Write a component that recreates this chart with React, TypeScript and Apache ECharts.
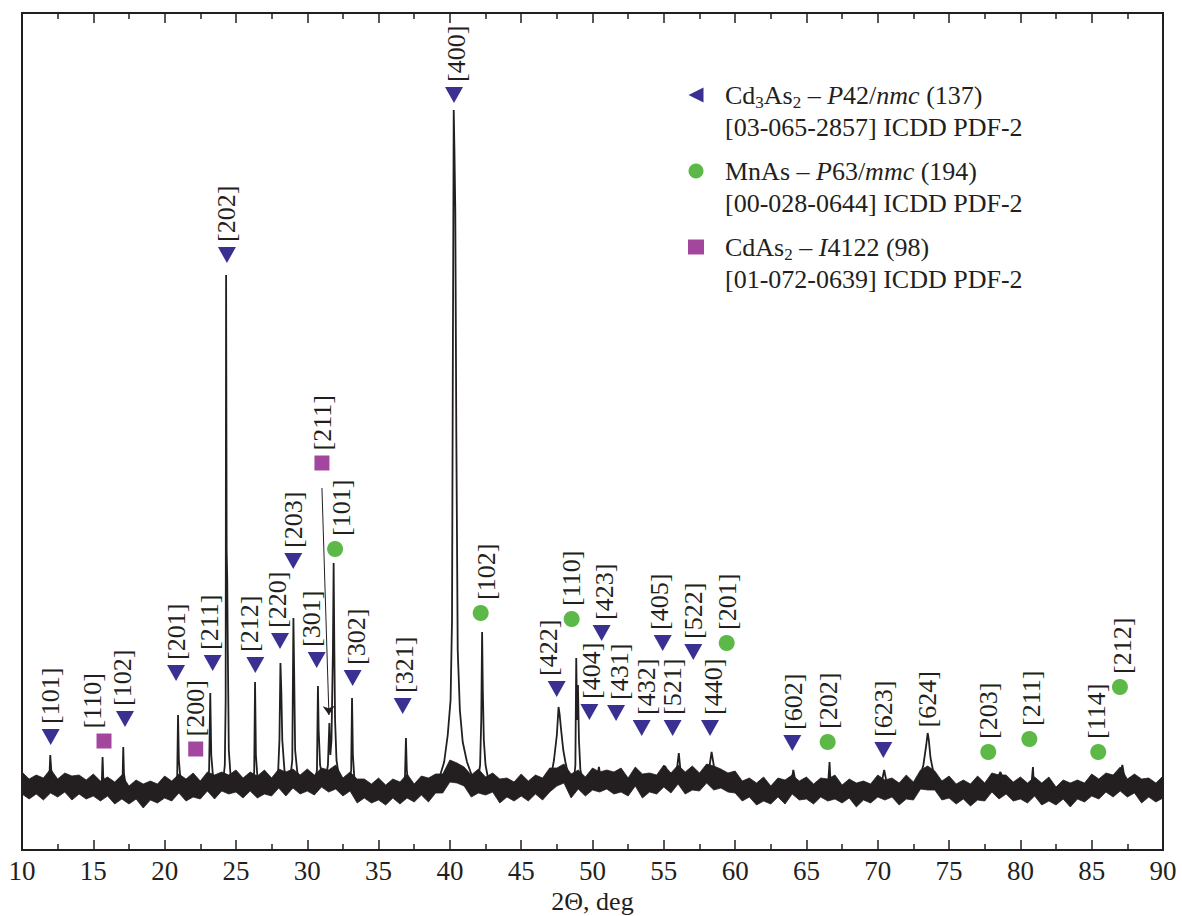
import React, { useEffect, useRef } from 'react';
import * as echarts from 'echarts';

const FONT = 'Liberation Serif';
const INK = '#231f20';
const BLUE = '#3a3092';
const GREEN = '#5cb947';
const MAGENTA = '#a3469d';

// x axis (2Θ, deg)
const xMin = 10;
const xMax = 90;
const xStep = 5;
// intensity axis (arbitrary units)
const yMin = 0;
const yMax = 837;

// noise band of the measured pattern (upper / lower excursions), sampled every 0.5° from 10° to 90°
const bandStart = 10;
const bandStep = 0.5;
const bandTop = [
  78, 71, 75, 72, 81, 71, 77, 74, 75, 70,
  76, 69, 73, 68, 75, 64, 70, 66, 69, 66,
  74, 69, 76, 71, 77, 69, 78, 75, 78, 75,
  80, 72, 78, 74, 80, 72, 81, 78, 81, 75,
  81, 75, 82, 80, 85, 72, 78, 71, 71, 66,
  72, 65, 71, 68, 76, 66, 74, 72, 76, 76,
  90, 87, 83, 75, 81, 73, 77, 71, 72, 68,
  76, 69, 75, 72, 82, 82, 86, 76, 80, 73,
  82, 78, 80, 78, 82, 72, 83, 76, 77, 75,
  85, 77, 85, 78, 84, 77, 86, 84, 81, 77,
  79, 69, 72, 67, 73, 64, 72, 70, 75, 69,
  73, 66, 72, 71, 75, 65, 71, 67, 69, 66,
  75, 70, 72, 67, 75, 68, 80, 84, 79, 69,
  74, 66, 70, 66, 74, 67, 77, 75, 75, 68,
  73, 67, 73, 67, 73, 63, 70, 67, 70, 67,
  76, 71, 77, 75, 83, 71, 76, 71, 72, 67,
  74,
];
const bandBottom = [
  56, 51, 56, 50, 57, 53, 58, 50, 56, 51,
  54, 49, 54, 46, 51, 46, 51, 42, 50, 47,
  52, 49, 57, 49, 53, 51, 59, 51, 59, 56,
  58, 52, 59, 52, 56, 54, 62, 54, 62, 56,
  59, 55, 63, 58, 61, 54, 59, 47, 52, 47,
  50, 45, 52, 46, 52, 48, 55, 48, 57, 57,
  68, 67, 64, 53, 57, 55, 58, 47, 53, 49,
  54, 49, 56, 50, 58, 64, 67, 52, 61, 54,
  60, 58, 61, 56, 58, 54, 64, 52, 58, 56,
  63, 57, 66, 56, 60, 59, 67, 60, 62, 58,
  57, 49, 53, 45, 49, 46, 53, 46, 56, 50,
  51, 46, 53, 49, 51, 47, 52, 43, 50, 47,
  53, 50, 53, 45, 51, 50, 61, 60, 60, 50,
  52, 46, 51, 44, 50, 49, 58, 51, 56, 49,
  51, 47, 54, 45, 49, 45, 51, 43, 51, 48,
  54, 51, 58, 53, 59, 53, 57, 47, 53, 48,
  52,
];

// measured trace through the reflections [2θ, intensity]
const patternTrace = [
  [10.0, 64], [11.5, 64],
  [11.8, 64], [11.92, 72], [11.98, 95], [12.05, 80], [12.15, 72], [12.3, 66],
  [13.5, 65], [15.0, 62],
  [15.5, 62], [15.6, 70], [15.65, 93], [15.7, 72], [15.8, 64],
  [16.95, 60], [17.05, 70], [17.1, 103], [17.15, 76], [17.3, 62],
  [18.5, 57], [20.0, 60],
  [20.75, 62], [20.88, 72], [20.94, 135], [21.0, 90], [21.1, 72], [21.3, 64],
  [22.5, 63],
  [23.0, 65], [23.12, 80], [23.2, 157], [23.27, 95], [23.4, 72], [23.55, 66],
  [24.1, 68], [24.22, 85], [24.28, 150], [24.31, 575], [24.35, 300], [24.39, 270], [24.43, 200], [24.5, 100], [24.62, 75], [24.8, 68],
  [25.5, 65],
  [26.15, 66], [26.28, 78], [26.34, 168], [26.4, 95], [26.5, 74], [26.7, 66],
  [27.5, 66],
  [27.8, 66], [27.95, 75], [28.05, 110], [28.12, 187], [28.18, 160], [28.25, 110], [28.4, 80], [28.6, 70],
  [28.8, 70], [28.95, 90], [29.03, 232], [29.08, 180], [29.15, 100], [29.3, 78], [29.5, 70],
  [30.0, 67],
  [30.55, 68], [30.68, 80], [30.75, 164], [30.8, 120], [30.9, 85], [31.05, 74],
  [31.3, 72], [31.45, 85], [31.55, 127], [31.62, 95], [31.7, 110], [31.8, 200], [31.85, 287], [31.9, 200], [31.95, 130], [32.05, 90], [32.2, 75],
  [32.6, 66],
  [32.95, 66], [33.08, 80], [33.14, 152], [33.2, 95], [33.3, 72], [33.5, 64],
  [35.0, 58],
  [36.7, 60], [36.85, 72], [36.92, 112], [36.98, 80], [37.1, 64],
  [38.0, 61], [38.9, 66],
  [39.3, 74], [39.6, 88], [39.85, 115], [40.05, 150], [40.15, 230], [40.2, 450], [40.27, 740], [40.32, 700], [40.38, 640], [40.45, 420], [40.55, 200], [40.7, 140], [40.9, 108], [41.2, 88], [41.6, 72],
  [41.95, 68], [42.12, 85], [42.2, 130], [42.26, 218], [42.31, 160], [42.38, 110], [42.5, 85], [42.7, 70],
  [44.0, 61], [46.0, 63],
  [46.8, 66], [47.1, 74], [47.3, 90], [47.5, 115], [47.62, 143], [47.7, 135], [47.8, 120], [47.95, 100], [48.1, 88], [48.35, 72], [48.6, 68],
  [48.7, 70], [48.8, 85], [48.86, 192], [48.92, 130], [48.98, 165], [49.05, 110], [49.15, 80], [49.3, 70],
  [50.3, 70], [50.45, 83], [50.6, 70],
  [52.0, 67],
  [54.9, 70], [55.1, 84], [55.3, 70],
  [55.85, 72], [56.05, 97], [56.2, 75],
  [57.0, 69],
  [58.1, 74], [58.35, 98], [58.6, 76],
  [59.5, 70], [60.5, 62], [61.5, 59], [63.0, 59],
  [63.9, 64], [64.08, 80], [64.3, 63],
  [65.5, 59],
  [66.5, 62], [66.62, 88], [66.7, 64],
  [68.0, 58], [69.5, 59],
  [70.2, 62], [70.45, 80], [70.7, 62],
  [71.5, 59],
  [72.6, 63], [72.9, 70], [73.2, 85], [73.4, 105], [73.5, 117], [73.58, 110], [73.7, 92], [73.9, 78], [74.2, 67], [74.5, 62],
  [76.0, 58],
  [78.2, 66], [78.6, 78], [79.0, 65],
  [80.0, 59],
  [80.75, 61], [80.88, 83], [80.95, 64],
  [82.5, 57], [84.5, 60],
  [86.9, 68], [87.15, 85], [87.35, 68],
  [88.5, 62], [90.0, 60],
];

// Cd3As2 reflections (marker position 2θ, marker height, hkl)
const cd3as2Pos = [12.01, 17.22, 20.8, 23.37, 24.37, 26.36, 28.09, 29.02, 30.66, 33.18, 36.69, 40.29, 47.49, 49.78, 50.64, 51.65, 53.45, 54.92, 55.62, 57.07, 58.24, 64.01, 70.39];
const cd3as2Height = [113, 131, 177, 187, 595, 185, 209, 289, 190, 172, 144, 755, 161, 138, 217, 137, 122, 207, 122, 198, 122, 107, 100];
const cd3as2Hkl = ['[101]', '[102]', '[201]', '[211]', '[202]', '[212]', '[220]', '[203]', '[301]', '[302]', '[321]', '[400]', '[422]', '[404]', '[423]', '[431]', '[432]', '[405]', '[521]', '[522]', '[440]', '[602]', '[623]'];
// Cd3As2 reflection labelled without marker
const cd3as2BarePos = [73.5];
const cd3as2BareHeight = [117];
const cd3as2BareHkl = ['[624]'];

// MnAs reflections
const mnasPos = [31.95, 42.16, 48.54, 59.41, 66.49, 77.75, 80.63, 85.46, 86.98];
const mnasHeight = [301, 237, 231, 207, 108, 98, 111, 98, 163];
const mnasHkl = ['[101]', '[102]', '[110]', '[201]', '[202]', '[203]', '[211]', '[114]', '[212]'];

// CdAs2 reflections
const cdas2Pos = [15.75, 22.18, 31.03];
const cdas2Height = [109, 101, 387];
const cdas2Hkl = ['[110]', '[200]', '[211]'];
// pointer from CdAs2 [211] marker to its reflection
const cdas2Pointer = [[31.03, 362], [31.52, 135]];

const legendNames = ['Cd3As2', 'MnAs', 'CdAs2'];
const legendLabels: Record<string, string> = {
  Cd3As2: '{n|Cd}{s|3}{n|As}{s|2}{n| – }{i|P}{n|42/}{i|nmc}{n| (137)}\n{n|[03-065-2857] ICDD PDF-2}',
  MnAs: '{n|MnAs – }{i|P}{n|63/}{i|mmc}{n| (194)}\n{n|[00-028-0644] ICDD PDF-2}',
  CdAs2: '{n|CdAs}{s|2}{n| – }{i|I}{n|4122 (98)}\n{n|[01-072-0639] ICDD PDF-2}',
};

// small horizontal label nudges (px), styling only
const labelNudge: Record<string, number> = {
  'Cd3As2[102]': -2, 'Cd3As2[211]': -3, 'Cd3As2[212]': -6, 'Cd3As2[220]': -3, 'Cd3As2[301]': -5,
  'Cd3As2[302]': 4, 'Cd3As2[321]': 2, 'Cd3As2[400]': 2, 'Cd3As2[422]': -8, 'Cd3As2[404]': 2,
  'Cd3As2[431]': 3, 'Cd3As2[432]': 5, 'Cd3As2[423]': 3, 'Cd3As2[405]': -3, 'Cd3As2[440]': 3,
  'Cd3As2[602]': 1,
  'MnAs[101]': 6, 'MnAs[102]': 6, 'MnAs[201]': 1, 'MnAs[202]': 1, 'MnAs[211]': 2, 'MnAs[114]': -2, 'MnAs[212]': 3,
  'CdAs2[110]': -12, 'CdAs2[211]': 1,
};

function markerItems(series: string, pos: number[], h: number[], hkl: string[], w: number, gap: number) {
  return pos.map((x, i) => ({
    name: hkl[i],
    value: [x, h[i]],
    label: { position: [w / 2 + (labelNudge[series + hkl[i]] || 0), -gap] },
  }));
}

const peakLabel = {
  show: true,
  formatter: '{b}',
  rotate: 90,
  align: 'left',
  verticalAlign: 'middle',
  fontFamily: FONT,
  fontSize: 26,
  color: INK,
};

function buildOption() {
  const bandRows = bandTop.map((t, i) => [bandStart + i * bandStep, bandBottom[i], t]);

  const cd3Items: any[] = markerItems('Cd3As2', cd3as2Pos, cd3as2Height, cd3as2Hkl, 18, 5);
  cd3as2BarePos.forEach((x, i) => {
    cd3Items.push({
      name: cd3as2BareHkl[i],
      value: [x, cd3as2BareHeight[i]],
      symbolSize: 1,
      itemStyle: { color: 'rgba(0,0,0,0)' },
      label: { position: [0.5, -5] },
    });
  });

  const tickStyle = { color: INK, width: 1.5 };
  const axisCommon = {
    type: 'value',
    min: xMin,
    max: xMax,
    interval: xStep,
    axisLine: { show: false },
    axisTick: { show: true, inside: true, length: 10, lineStyle: tickStyle },
    minorTick: { show: true, splitNumber: 2, length: 6, lineStyle: tickStyle },
    splitLine: { show: false },
    minorSplitLine: { show: false },
  };

  return {
    animation: false,
    backgroundColor: '#ffffff',
    textStyle: { fontFamily: FONT },
    grid: {
      left: 22, right: 19, top: 13, bottom: 66,
      show: true, borderColor: INK, borderWidth: 2, backgroundColor: 'transparent',
      containLabel: false, outerBoundsMode: 'none',
    },
    xAxis: [
      {
        ...axisCommon,
        position: 'bottom',
        axisLabel: { show: true, fontFamily: FONT, fontSize: 27, color: INK, margin: 7 },
        name: '2Θ, deg',
        nameLocation: 'middle',
        nameGap: 37,
        nameTextStyle: { fontFamily: FONT, fontSize: 26, color: INK },
      },
      {
        ...axisCommon,
        position: 'top',
        axisLabel: { show: false },
      },
    ],
    yAxis: { type: 'value', min: yMin, max: yMax, show: false },
    legend: {
      orient: 'vertical',
      left: 688,
      top: 47,
      padding: 0,
      itemGap: -20,
      itemWidth: 16,
      itemHeight: 15,
      selectedMode: false,
      symbolRotate: 0,
      data: [
        { name: legendNames[0], icon: 'path://M10,0L10,10L0,5Z', symbolRotate: 0 },
        { name: legendNames[1], icon: 'circle' },
        { name: legendNames[2], icon: 'rect' },
      ],
      formatter: (name: string) => legendLabels[name],
      textStyle: {
        fontFamily: FONT,
        fontSize: 26,
        color: INK,
        lineHeight: 32,
        padding: [32, 0, 0, 16],
        rich: {
          n: { fontFamily: FONT, fontSize: 26, color: INK, lineHeight: 32 },
          i: { fontFamily: FONT, fontSize: 26, color: INK, lineHeight: 32, fontStyle: 'italic' },
          s: { fontFamily: FONT, fontSize: 17, color: INK, lineHeight: 20, verticalAlign: 'bottom' },
        },
      },
    },
    series: [
      {
        type: 'custom',
        name: 'noise',
        silent: true,
        z: 2,
        data: bandRows,
        encode: { x: 0, y: [1, 2] },
        renderItem: (params: any, api: any) => {
          if (params.dataIndex !== 0) return null;
          const pts: number[][] = [];
          for (let i = 0; i < bandRows.length; i++) pts.push(api.coord([bandRows[i][0], bandRows[i][2]]));
          for (let i = bandRows.length - 1; i >= 0; i--) pts.push(api.coord([bandRows[i][0], bandRows[i][1]]));
          return {
            type: 'polygon',
            shape: { points: pts },
            style: { fill: INK, stroke: INK, lineWidth: 0.8 },
          };
        },
      },
      {
        type: 'line',
        name: 'pattern',
        silent: true,
        z: 3,
        data: patternTrace,
        symbol: 'none',
        showSymbol: false,
        lineStyle: { color: INK, width: 1.8 },
      },
      {
        type: 'scatter',
        name: legendNames[0],
        silent: true,
        z: 5,
        symbol: 'triangle',
        symbolRotate: 180,
        symbolSize: [18, 16],
        itemStyle: { color: BLUE, opacity: 1 },
        label: peakLabel,
        data: cd3Items,
      },
      {
        type: 'scatter',
        name: legendNames[1],
        silent: true,
        z: 5,
        symbol: 'circle',
        symbolSize: 16,
        itemStyle: { color: GREEN, opacity: 1 },
        label: peakLabel,
        data: markerItems('MnAs', mnasPos, mnasHeight, mnasHkl, 16, 5),
      },
      {
        type: 'scatter',
        name: legendNames[2],
        silent: true,
        z: 5,
        symbol: 'rect',
        symbolSize: 15,
        itemStyle: { color: MAGENTA, opacity: 1 },
        label: peakLabel,
        data: markerItems('CdAs2', cdas2Pos, cdas2Height, cdas2Hkl, 15, 5),
        markLine: {
          silent: true,
          symbol: ['none', 'arrow'],
          symbolSize: 9,
          label: { show: false },
          lineStyle: { color: INK, width: 1, type: 'solid' },
          data: [[{ coord: cdas2Pointer[0] }, { coord: cdas2Pointer[1] }]],
        },
      },
    ],
  };
}

export default function App() {
  const ref = useRef<HTMLDivElement>(null);
  useEffect(() => {
    if (!ref.current) return;
    const chart = echarts.init(ref.current, null, { renderer: 'svg' });
    chart.setOption(buildOption() as any);
    return () => chart.dispose();
  }, []);
  return (
    <div
      ref={ref}
      style={{ position: 'fixed', left: 0, top: 0, width: 1182, height: 916, background: '#ffffff' }}
    />
  );
}
